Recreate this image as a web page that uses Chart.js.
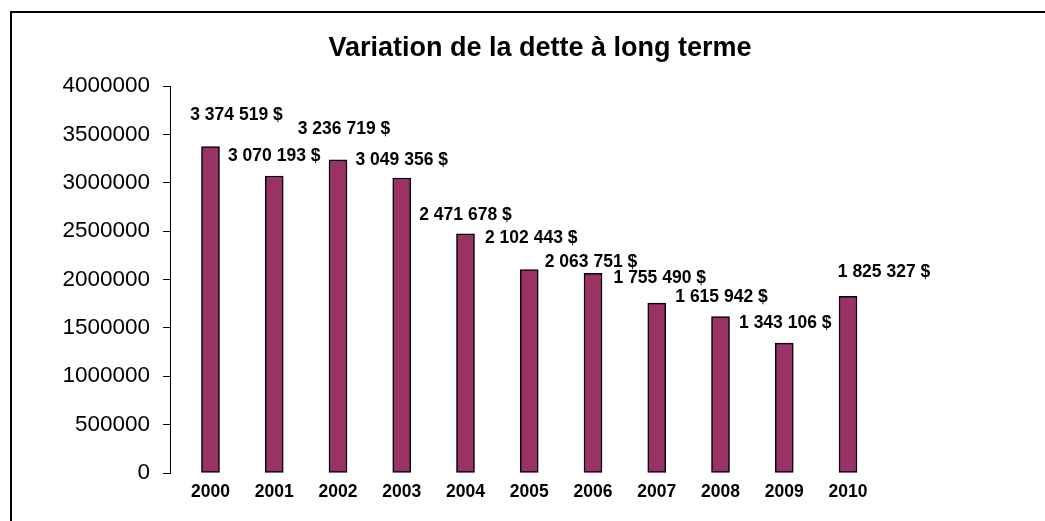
<!DOCTYPE html>
<html lang="fr">
<head>
<meta charset="utf-8">
<title>Variation de la dette à long terme</title>
<script src="https://cdn.jsdelivr.net/npm/chart.js@4.4.1/dist/chart.umd.min.js"></script>
<style>
    html, body { margin: 0; padding: 0; background: #fff; overflow: hidden; }
    #frame { position: absolute; left: 10px; top: 11px; width: 1100px; height: 600px; border: 2px solid #000; }
    #debtChart { position: absolute; left: 0; top: 0; }
</style>
</head>
<body>
<div id="frame"></div>
<canvas id="debtChart" width="1045" height="521"></canvas>
<script>
// Data
const years = [2000, 2001, 2002, 2003, 2004, 2005, 2006, 2007, 2008, 2009, 2010];
const debt = [3374519, 3070193, 3236719, 3049356, 2471678, 2102443, 2063751, 1755490, 1615942, 1343106, 1825327];
const yTicks = [0, 500000, 1000000, 1500000, 2000000, 2500000, 3000000, 3500000, 4000000];

// Where each value label sits relative to the top of its bar (the original has them nudged by hand)
const labelShiftX = [26, 0, 6, 0, 0, 2, -2, 3, 1, 1, 36];
const labelShiftY = [-31, -20, -31, -18, -19, -31, -11, -25, -19, -20, -24];

const fontFamily = '"Liberation Sans", Arial, sans-serif';

// Format a number like "3 374 519 $"
function formatDollars(value) {
    return String(value).replace(/\B(?=(\d{3})+(?!\d))/g, ' ') + ' $';
}

// Draw the value labels above the bars
const valueLabels = {
    id: 'valueLabels',
    afterDatasetsDraw(chart) {
        const ctx = chart.ctx;
        const meta = chart.getDatasetMeta(0);
        ctx.save();
        ctx.font = 'bold 17.5px ' + fontFamily;
        ctx.fillStyle = '#000';
        ctx.textAlign = 'center';
        ctx.textBaseline = 'middle';
        meta.data.forEach((bar, i) => {
            ctx.fillText(formatDollars(debt[i]), bar.x + labelShiftX[i], bar.y + labelShiftY[i]);
        });
        ctx.restore();
    }
};

const ctx = document.getElementById('debtChart').getContext('2d');

new Chart(ctx, {
    type: 'bar',
    data: {
        datasets: [{
            label: 'Dette à long terme',
            data: years.map((year, i) => ({ x: year, y: debt[i] })),
            backgroundColor: '#993366',
            borderColor: '#000',
            borderWidth: 1.5,
            borderSkipped: false,
            barThickness: 18,
            yAxisID: 'y'
        }]
    },
    options: {
        responsive: false,
        animation: false,
        layout: {
            padding: { left: 35, right: 0, top: 0, bottom: 0 }
        },
        plugins: {
            legend: { display: false },
            tooltip: { enabled: false },
            title: {
                display: true,
                text: 'Variation de la dette à long terme',
                color: '#000',
                font: { family: fontFamily, size: 27, weight: 'bold' },
                padding: { top: 32, bottom: 21.6 }
            }
        },
        scales: {
            x: {
                type: 'linear',
                offset: false,
                min: 1999.365,
                max: 2010.635,
                grid: { display: false, drawTicks: false, offset: false },
                border: { display: false },
                ticks: {
                    stepSize: 1,
                    includeBounds: false,
                    autoSkip: false,
                    maxRotation: 0,
                    padding: 9,
                    color: '#000',
                    font: { family: fontFamily, size: 17.5, weight: 'bold' },
                    callback: value => (years.includes(value) ? String(value) : '')
                },
                afterFit: scale => { scale.height = 48; }
            },
            y: {
                position: 'left',
                min: 0,
                max: 4000000,
                afterBuildTicks: axis => { axis.ticks = yTicks.map(v => ({ value: v })); },
                grid: {
                    display: true,
                    drawOnChartArea: false,
                    drawTicks: true,
                    tickLength: 7,
                    color: '#000',
                    lineWidth: 1
                },
                border: { display: true, color: '#000', width: 1 },
                ticks: {
                    padding: 13,
                    color: '#000',
                    font: { family: fontFamily, size: 22.5 },
                    callback: value => String(value)
                },
                afterFit: scale => { scale.width = 135; }
            },
            // empty axis that only reserves the blank space on the right
            yRight: {
                position: 'right',
                display: true,
                grid: { display: false, drawTicks: false },
                border: { display: false },
                ticks: { display: false },
                afterFit: scale => { scale.width = 156.5; }
            }
        }
    },
    plugins: [valueLabels]
});
</script>
</body>
</html>
